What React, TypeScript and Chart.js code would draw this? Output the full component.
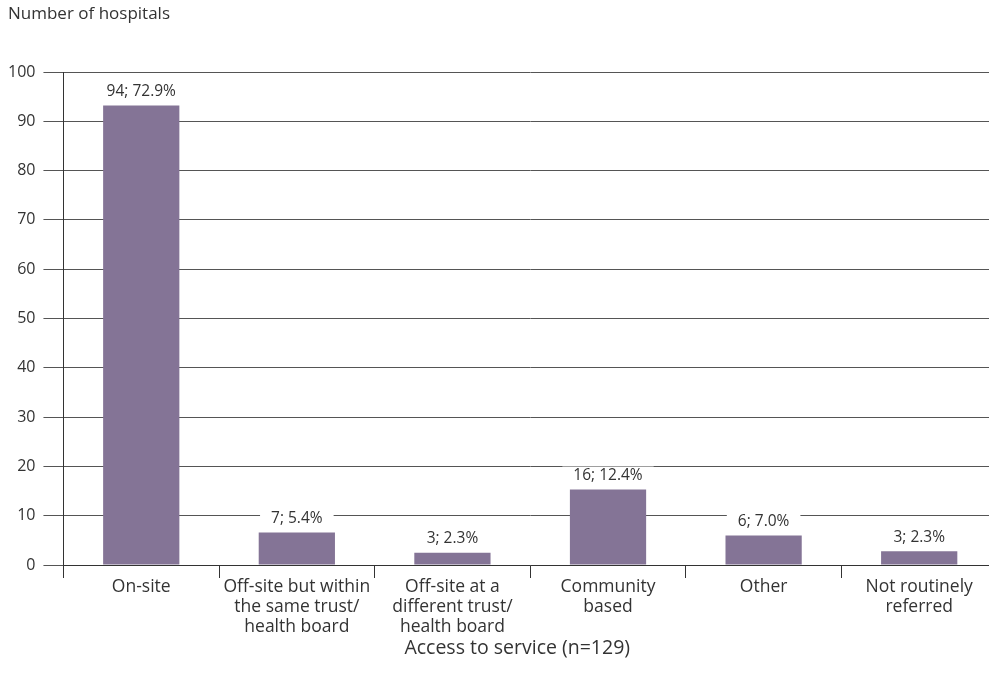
import React, { useEffect, useRef } from "react";
import { Chart, registerables } from "chart.js";

Chart.register(...registerables);

const categories: string[][] = [
  ["On-site"],
  ["Off-site but within", "the same trust/", "health board"],
  ["Off-site at a", "different trust/", "health board"],
  ["Community", "based"],
  ["Other"],
  ["Not routinely", "referred"],
];
const barValues: number[] = [93.2, 6.6, 2.5, 15.3, 6.0, 2.8];
const barLabels: string[] = ["94; 72.9%", "7; 5.4%", "3; 2.3%", "16; 12.4%", "6; 7.0%", "3; 2.3%"];
const yTitle = "Number of hospitals";
const xTitle = "Access to service (n=129)";

const FONT = "'Open Sans', 'Noto Sans', sans-serif";
const TEXT = "#333333";

const labelPlugin = {
  id: "barLabels",
  afterDatasetsDraw(chart: any) {
    const ctx = chart.ctx;
    const meta = chart.getDatasetMeta(0);
    ctx.save();
    ctx.font = `15.5px ${FONT}`;
    ctx.textAlign = "center";
    ctx.textBaseline = "middle";
    meta.data.forEach((bar: any, i: number) => {
      const text = barLabels[i];
      const w = ctx.measureText(text).width;
      const cy = bar.y - 14;
      ctx.fillStyle = "#ffffff";
      ctx.fillRect(bar.x - w / 2 - 11, cy - 9, w + 22, 18);
      ctx.fillStyle = TEXT;
      ctx.fillText(text, bar.x, cy);
    });
    ctx.restore();
  },
  afterDraw(chart: any) {
    const ctx = chart.ctx;
    const area = chart.chartArea;
    ctx.save();
    ctx.fillStyle = TEXT;
    ctx.textBaseline = "middle";
    ctx.font = `17px ${FONT}`;
    ctx.textAlign = "left";
    ctx.fillText(yTitle, 8, 14);
    ctx.font = `19.5px ${FONT}`;
    ctx.textAlign = "center";
    ctx.fillText(xTitle, (area.left + area.right) / 2 - 13, area.bottom + 83);
    ctx.restore();
  },
};

export default function App() {
  const ref = useRef<HTMLCanvasElement>(null);
  useEffect(() => {
    if (!ref.current) return;
    const chart = new Chart(ref.current, {
      type: "bar",
      data: {
        labels: categories,
        datasets: [
          {
            data: barValues,
            backgroundColor: "#847496",
            barPercentage: 0.49,
            categoryPercentage: 1,
          },
        ],
      },
      options: {
        responsive: false,
        animation: false,
        layout: { padding: { left: 0, right: 0, top: 72, bottom: 53 } },
        plugins: {
          legend: { display: false },
          tooltip: { enabled: false },
          title: { display: false },
        },
        scales: {
          x: {
            grid: {
              offset: true,
              drawOnChartArea: false,
              drawTicks: true,
              tickLength: 13,
              color: "#333333",
            },
            border: { display: true, color: "#333333" },
            ticks: {
              color: TEXT,
              font: { family: FONT, size: 17.5, lineHeight: "20px" },
              padding: -1,
              maxRotation: 0,
              autoSkip: false,
            },
          },
          y: {
            min: 0,
            max: 100,
            ticks: {
              stepSize: 10,
              color: TEXT,
              font: { family: FONT, size: 16 },
              padding: 8,
            },
            grid: {
              color: "#555555",
              tickLength: 20,
              lineWidth: 1,
            },
            border: { display: true, color: "#333333" },
          },
        },
      },
      plugins: [labelPlugin],
    });
    return () => chart.destroy();
  }, []);
  return (
    <div
      style={{
        position: "fixed",
        left: 0,
        top: 0,
        width: 989,
        height: 689,
        overflow: "hidden",
        background: "#fff",
      }}
    >
      <canvas ref={ref} width={997} height={689} style={{ display: "block" }} />
    </div>
  );
}
